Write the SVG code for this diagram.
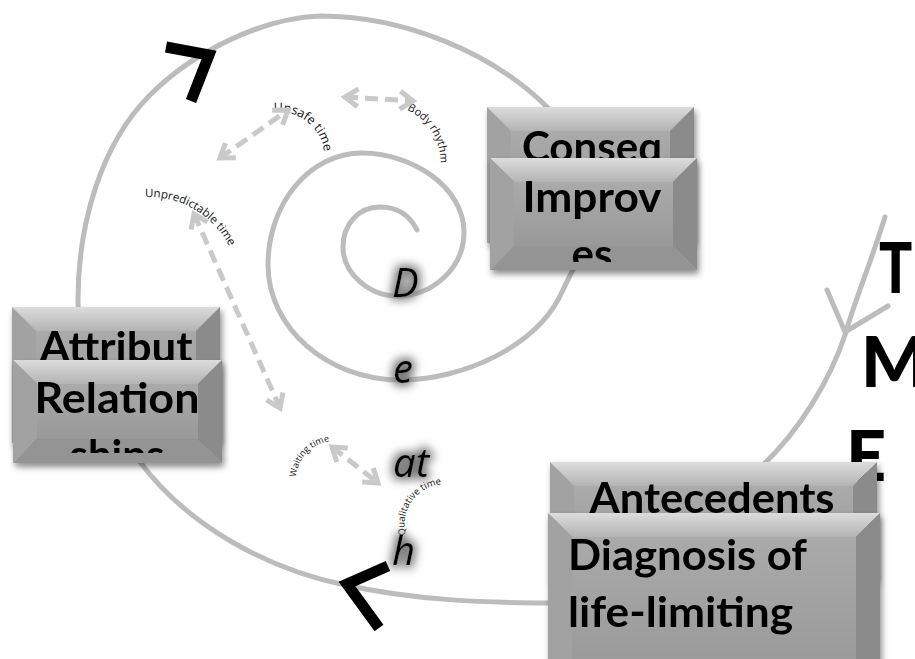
<svg xmlns="http://www.w3.org/2000/svg" width="915" height="659" viewBox="0 0 915 659">
<style>
.spiral{fill:none;stroke:#bcbcbc;stroke-width:5;stroke-linecap:round;stroke-linejoin:round}
.dash{fill:none;stroke:#c9c9c9;stroke-width:5;stroke-dasharray:13 7;marker-start:url(#chev);marker-end:url(#chev)}
.blk{fill:none;stroke:#000;stroke-width:11;stroke-linejoin:miter;stroke-miterlimit:10}
.arc{font-family:"Open Sans","Liberation Sans",sans-serif;fill:#111}
.death{font-family:"Noto Sans","Open Sans",sans-serif;font-style:italic;font-size:40px;fill:#000}
.bt{font-family:Lato,"Liberation Sans",sans-serif;font-weight:bold;font-size:42px;fill:#000}
.time{font-family:Lato,"Liberation Sans",sans-serif;font-weight:900;font-size:70px;fill:#000}
.top{fill:url(#gTop)}.lft{fill:#a2a2a2}.rgt{fill:#8b8b8b}.bot{fill:#949494}.face{fill:url(#gFace)}
</style>
<defs>
<linearGradient id="gTop" x1="0" y1="0" x2="0" y2="1"><stop offset="0" stop-color="#dcdcdc"/><stop offset="1" stop-color="#b4b4b4"/></linearGradient>
<linearGradient id="gFace" x1="0" y1="0" x2="0" y2="1"><stop offset="0" stop-color="#aaaaaa"/><stop offset="1" stop-color="#999999"/></linearGradient>
<marker id="chev" markerUnits="userSpaceOnUse" markerWidth="24" markerHeight="24" viewBox="0 0 24 24" refX="18" refY="12" orient="auto-start-reverse">
<path d="M5,3 L18,12 L5,21" fill="none" stroke="#c9c9c9" stroke-width="5"/>
</marker>
<filter id="glow" x="-80%" y="-80%" width="260%" height="260%">
<feMorphology in="SourceAlpha" operator="dilate" radius="3" result="d"/>
<feGaussianBlur in="d" stdDeviation="5" result="b"/>
<feFlood flood-color="#7a7a7a" flood-opacity="1"/>
<feComposite in2="b" operator="in" result="g"/>
<feMerge><feMergeNode in="g"/><feMergeNode in="SourceGraphic"/></feMerge>
</filter>
<filter id="shadow" x="-10%" y="-10%" width="125%" height="135%">
<feDropShadow dx="2" dy="4" stdDeviation="3" flood-color="#000" flood-opacity="0.45"/>
</filter>
<clipPath id="cConseq"><rect x="487" y="107" width="207" height="136"/></clipPath>
<clipPath id="cImprov"><rect x="490" y="158" width="207" height="104"/></clipPath>
<clipPath id="cAttr"><rect x="12" y="307" width="208" height="136"/></clipPath>
<clipPath id="cRel"><rect x="13" y="360" width="209" height="93"/></clipPath>
<clipPath id="cAnte"><rect x="550" y="462" width="327" height="120"/></clipPath>
<clipPath id="cDiag"><rect x="548" y="513" width="332" height="160"/></clipPath>
<path id="pUnsafe" d="M274,112 A46,46 0 0 1 322,173"/>
<path id="pBody" d="M407,110 A55,55 0 0 1 437,179"/>
<path id="pUnpred" d="M145,197 A91,91 0 0 1 238,272"/>
<path id="pWait" d="M296,477 A39,39 0 0 1 338,441"/>
<path id="pQual" d="M406,535 A40,40 0 0 1 459,487"/>
</defs>

<g id="connectors">
<path class="spiral" d="M560,603 C483,603 413,600 345,585 C267,569 188,526 140,462 C105,416 78,358 78,300 C78,228 99,146 150,95 C193,52 262,18 320,16 C402,16 491,51 548,108 C573,133 598,160 598,195 C598,229 577,259 563,290 C538,347 462,380 400,380 C328,380 268,328 268,265 C268,203 310,153 362,153 C412,153 464,187 464,232 C464,268 433,296 397,296 C370,296 343,274 343,247 C343,225 358,207 380,207 C398,207 410,216 417,230"/>
<path class="spiral" d="M885,217 C870,265 855,300 845,335 C830,380 800,430 762,466"/>
<polyline class="spiral" points="827,290 845,332 888,306"/>
</g>

<g id="label-unsafe"><text class="arc" font-size="12.5"><textPath href="#pUnsafe">Unsafe time</textPath></text></g>
<g id="label-body"><text class="arc" font-size="11"><textPath href="#pBody">Body rhythm</textPath></text></g>
<g id="label-unpredictable"><text class="arc" font-size="11.5"><textPath href="#pUnpred">Unpredictable time</textPath></text></g>
<g id="label-waiting"><text class="arc" font-size="9"><textPath href="#pWait">Waiting time</textPath></text></g>
<g id="label-qualitative"><text class="arc" font-size="9.5"><textPath href="#pQual">Qualitative time</textPath></text></g>

<g id="dashed-arrows">
<line class="dash" x1="220" y1="158" x2="288" y2="110"/>
<line class="dash" x1="345" y1="97" x2="413" y2="101"/>
<line class="dash" x1="194" y1="214" x2="280" y2="408"/>
<line class="dash" x1="332" y1="447" x2="378" y2="483"/>
</g>

<g id="chevrons">
<polyline class="blk" points="166,47 209,55 191,101"/>
<polyline class="blk" points="388,566 347,584 379,628"/>
</g>

<g id="death" filter="url(#glow)">
<text class="death" x="392" y="297">D</text>
<text class="death" x="393" y="383">e</text>
<text class="death" x="393" y="477">at</text>
<text class="death" x="392" y="565">h</text>
</g>

<g id="time-label">
<text class="time" x="879" y="293" textLength="50" lengthAdjust="spacingAndGlyphs">TI</text>
<text class="time" x="861" y="387">M</text>
<text class="time" x="846" y="481">E</text>
</g>

<g id="node-consequences" filter="url(#shadow)">
<polygon class="top" points="487,107 694,107 670,131 511,131"/>
<polygon class="lft" points="487,107 511,131 511,219 487,243"/>
<polygon class="rgt" points="694,107 694,243 670,219 670,131"/>
<polygon class="bot" points="487,243 511,219 670,219 694,243"/>
<rect class="face" x="511" y="131" width="159" height="88"/>
<g clip-path="url(#cConseq)"><text class="bt" x="592" y="162" text-anchor="middle" textLength="140" lengthAdjust="spacingAndGlyphs">Conseq</text></g>
</g>

<g id="node-improves" filter="url(#shadow)">
<polygon class="top" points="490,158 697,158 673,182 514,182"/>
<polygon class="lft" points="490,158 514,182 514,246 490,270"/>
<polygon class="rgt" points="697,158 697,270 673,246 673,182"/>
<polygon class="bot" points="490,270 514,246 673,246 697,270"/>
<rect class="face" x="514" y="182" width="159" height="64"/>
<g clip-path="url(#cImprov)">
<text class="bt" x="592" y="212" text-anchor="middle" textLength="139" lengthAdjust="spacingAndGlyphs">Improv</text>
<text class="bt" x="592" y="269" text-anchor="middle">es</text>
</g>
</g>

<g id="node-attributes" filter="url(#shadow)">
<polygon class="top" points="12,307 220,307 196,331 36,331"/>
<polygon class="lft" points="12,307 36,331 36,419 12,443"/>
<polygon class="rgt" points="220,307 220,443 196,419 196,331"/>
<polygon class="bot" points="12,443 36,419 196,419 220,443"/>
<rect class="face" x="36" y="331" width="160" height="88"/>
<g clip-path="url(#cAttr)"><text class="bt" x="116" y="362" text-anchor="middle" textLength="153" lengthAdjust="spacingAndGlyphs">Attribut</text></g>
</g>

<g id="node-relationships" filter="url(#shadow)">
<polygon class="top" points="13,360 222,360 198,384 37,384"/>
<polygon class="lft" points="13,360 37,384 37,439 13,463"/>
<polygon class="rgt" points="222,360 222,463 198,439 198,384"/>
<polygon class="bot" points="13,463 37,439 198,439 222,463"/>
<rect class="face" x="37" y="384" width="161" height="55"/>
<g clip-path="url(#cRel)">
<text class="bt" x="117" y="413" text-anchor="middle" textLength="165" lengthAdjust="spacingAndGlyphs">Relation</text>
<text class="bt" x="117" y="470" text-anchor="middle">ships</text>
</g>
</g>

<g id="node-antecedents" filter="url(#shadow)">
<polygon class="top" points="550,462 877,462 853,486 574,486"/>
<polygon class="lft" points="550,462 574,486 574,558 550,582"/>
<polygon class="rgt" points="877,462 877,582 853,558 853,486"/>
<rect class="face" x="574" y="486" width="279" height="96"/>
<g clip-path="url(#cAnte)"><text class="bt" x="712" y="513" text-anchor="middle" textLength="245" lengthAdjust="spacingAndGlyphs">Antecedents</text></g>
</g>

<g id="node-diagnosis" filter="url(#shadow)">
<polygon class="top" points="548,513 880,513 856,537 572,537"/>
<polygon class="lft" points="548,513 572,537 572,673 548,673"/>
<polygon class="rgt" points="880,513 880,673 856,673 856,537"/>
<rect class="face" x="572" y="537" width="284" height="136"/>
<g clip-path="url(#cDiag)">
<text class="bt" x="568" y="570" textLength="239" lengthAdjust="spacingAndGlyphs">Diagnosis of</text>
<text class="bt" x="568" y="627" textLength="225" lengthAdjust="spacingAndGlyphs">life-limiting</text>
</g>
</g>
</svg>
